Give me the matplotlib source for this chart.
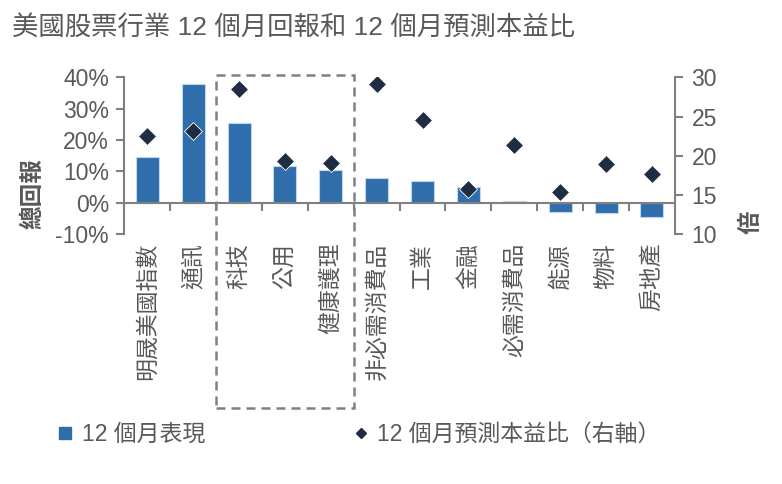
import matplotlib
matplotlib.use("Agg")
import matplotlib.pyplot as plt
import matplotlib.transforms as mtransforms
from matplotlib.lines import Line2D
from matplotlib.patches import Rectangle
from matplotlib.ticker import FuncFormatter

# 數據
sectors = ["明晟美國指數", "通訊", "科技", "公用", "健康護理", "非必需消費品",
           "工業", "金融", "必需消費品", "能源", "物料", "房地產"]
returns_pct = [14.5, 38.0, 25.3, 11.7, 10.3, 7.9, 6.9, 5.1, 0.4, -2.9, -3.4, -4.7]
forward_pe = [22.5, 23.1, 28.5, 19.3, 19.1, 29.1, 24.6, 15.7, 21.4, 15.4, 18.9, 17.6]
left_ticks = [-10, 0, 10, 20, 30, 40]
right_ticks = [10, 15, 20, 25, 30]
highlight = ["科技", "健康護理"]

title = "美國股票行業 12 個月回報和 12 個月預測本益比"
bar_label = "12 個月表現"
pe_label = "12 個月預測本益比（右軸）"

plt.rcParams["font.family"] = ["Liberation Sans", "Noto Sans CJK TC"]
plt.rcParams["axes.unicode_minus"] = False

GREY = "#595959"
AXIS = "#808080"
BAR = "#2F6EAA"
DARK = "#1F2D44"
FS = 16.5

fig = plt.figure(figsize=(7.82, 4.84), dpi=100)
ax = fig.add_axes([0.159, 0.517, 0.704, 0.323])
ax2 = ax.twinx()

x = list(range(len(sectors)))
ax.bar(x, returns_pct, width=0.5, color=BAR, edgecolor="#BDD7EE", linewidth=0.8, zorder=2)
ax2.plot(x, forward_pe, ls="none", marker="D", ms=9, mfc=DARK, mec="white", mew=0.6, zorder=3)

ax.set_xlim(-0.5, len(sectors) - 0.5)
ax.set_ylim(left_ticks[0], left_ticks[-1])
ax2.set_ylim(right_ticks[0], right_ticks[-1])

# 軸線
for s in ["top", "right"]:
    ax.spines[s].set_visible(False)
ax.spines["bottom"].set_position(("data", 0))
for s in ["bottom", "left"]:
    ax.spines[s].set_color(AXIS)
    ax.spines[s].set_linewidth(1.5)
for s in ["top", "left", "bottom"]:
    ax2.spines[s].set_visible(False)
ax2.spines["right"].set_color(AXIS)
ax2.spines["right"].set_linewidth(1.5)

ax.set_xticks(x)
ax.set_xticklabels(sectors, rotation=90)
ax.set_xticks([i + 0.5 for i in x[:-1]], minor=True)
ax.tick_params(axis="x", which="major", length=0, pad=29, labelsize=FS, labelcolor=GREY)
ax.tick_params(axis="x", which="minor", length=6, width=1.5, color=AXIS, direction="out")

ax.set_yticks(left_ticks)
ax.yaxis.set_major_formatter(FuncFormatter(lambda v, p: "{:.0f}%".format(v)))
ax.tick_params(axis="y", length=6, width=1.5, color=AXIS, labelsize=FS, labelcolor=GREY, pad=5)
ax2.set_yticks(right_ticks)
ax2.tick_params(axis="y", length=6, width=1.5, color=AXIS, labelsize=FS, labelcolor=GREY, pad=6)

ax.set_ylabel("總回報", fontsize=17, fontweight="bold", color=GREY)
ax.yaxis.set_label_coords(-0.145, 0.26)
ax2.set_ylabel("倍", fontsize=17, fontweight="bold", color=GREY, rotation=90)
ax2.yaxis.set_label_coords(1.117, 0.075)

# 虛線框
i0 = sectors.index(highlight[0])
i1 = sectors.index(highlight[1])
trans = mtransforms.blended_transform_factory(ax.transData, ax.transAxes)
ax2.add_patch(Rectangle((i0 - 0.5, -1.114), i1 - i0 + 1, 2.129, transform=trans,
                        fill=False, ls=(0, (3.6, 2.4)), lw=1.8, ec=AXIS, clip_on=False))

fig.text(0.015, 0.944, title, fontsize=19, color=GREY, va="center")

handles = [
    Line2D([], [], ls="none", marker="s", ms=8, color=BAR),
    Line2D([], [], ls="none", marker="D", ms=5.5, color=DARK),
]
fig.legend(handles, [bar_label, pe_label], loc="center left", bbox_to_anchor=(0.072, 0.103),
           ncol=2, frameon=False, fontsize=FS, handlelength=0.8, handletextpad=0.3,
           columnspacing=6.4, borderpad=0, borderaxespad=0, labelcolor=GREY)

fig.savefig("out.png", dpi=100)
